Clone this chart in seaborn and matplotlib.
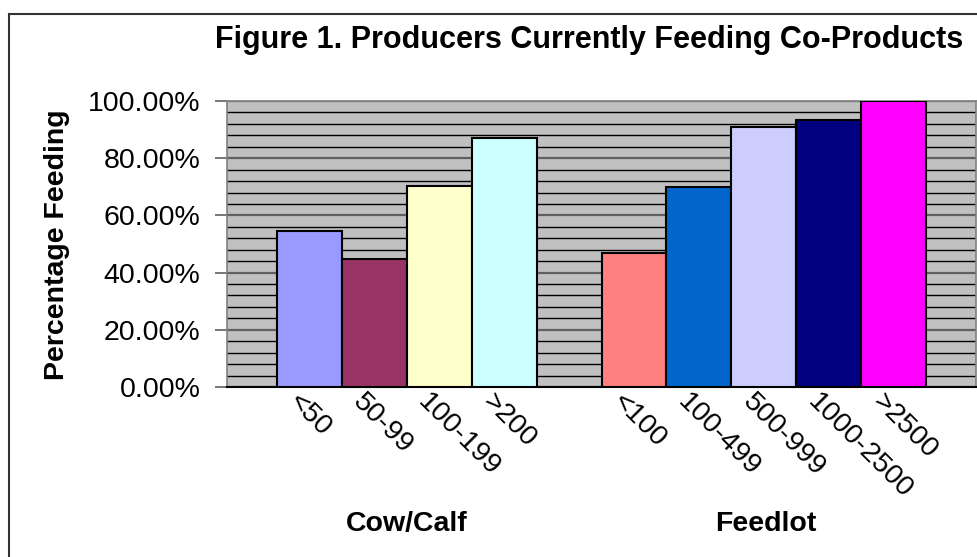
import matplotlib
matplotlib.use("Agg")
import matplotlib.pyplot as plt
import matplotlib.patches as patches
from matplotlib.ticker import MultipleLocator, PercentFormatter
from matplotlib.transforms import ScaledTranslation
import pandas as pd
import seaborn as sns

# data
cow_calf_sizes = ["<50", "50-99", "100-199", ">200"]
cow_calf_pct = [0.545, 0.448, 0.704, 0.870]
feedlot_sizes = ["<100", "100-499", "500-999", "1000-2500", ">2500"]
feedlot_pct = [0.469, 0.698, 0.909, 0.934, 1.0]
group_names = ["Cow/Calf", "Feedlot"]
bar_colors = ["#9999FF", "#993366", "#FFFFCC", "#CCFFFF",
              "#FF8080", "#0066CC", "#CCCCFF", "#000080", "#FF00FF"]

sizes = cow_calf_sizes + feedlot_sizes
df = pd.DataFrame({"size": sizes, "pct": cow_calf_pct + feedlot_pct})
order = cow_calf_sizes + [" "] + feedlot_sizes  # blank slot between the groups
palette = dict(zip(sizes, bar_colors))

sns.set_style("white")
plt.rcParams["font.family"] = ["Liberation Sans", "DejaVu Sans"]
plt.rcParams["text.color"] = "black"
plt.rcParams["xtick.color"] = "black"
plt.rcParams["ytick.color"] = "black"

fig = plt.figure(figsize=(9.77, 5.57), dpi=100)
ax = fig.add_axes([227 / 977, 1 - 387 / 557, 749 / 977, 286 / 557])
ax.set_facecolor("#C0C0C0")

sns.barplot(data=df, x="size", y="pct", hue="size", order=order, hue_order=sizes,
            palette=palette, saturation=1, width=1.0, edgecolor="black", linewidth=1.5,
            legend=False, ax=ax, zorder=3)

ax.set_ylim(0, 1.0)
ax.set_xlim(-1.27, 10.27)
ax.yaxis.set_major_locator(MultipleLocator(0.2))
ax.yaxis.set_minor_locator(MultipleLocator(0.04))
ax.yaxis.set_major_formatter(PercentFormatter(1.0, decimals=2))
ax.grid(True, which="minor", axis="y", color="black", linewidth=1.0, zorder=0)
ax.grid(True, which="major", axis="y", color="#606060", linewidth=1.6, zorder=0)
ax.set_axisbelow(True)

ax.tick_params(axis="y", which="major", length=9, width=1.2, color="#606060",
               labelcolor="black", labelsize=20.5, pad=10, left=True)
ax.tick_params(axis="y", which="minor", length=0)
ax.tick_params(axis="x", length=0, labelcolor="black", labelsize=20.5, pad=1)
plt.setp(ax.get_xticklabels(), rotation=-45, ha="left", va="top", rotation_mode="anchor")
shift = ScaledTranslation(-8 / 100, 0, fig.dpi_scale_trans)
for lab in ax.get_xticklabels():
    lab.set_transform(lab.get_transform() + shift)

ax.set_xlabel("")
ax.set_ylabel("")
for side in ["top", "right", "left"]:
    ax.spines[side].set_color("#808080")
    ax.spines[side].set_linewidth(1.2)
ax.spines["bottom"].set_color("black")
ax.spines["bottom"].set_linewidth(1.5)

fig.text(589 / 977, 1 - 40 / 557, "Figure 1. Producers Currently Feeding Co-Products",
         ha="center", va="center", fontsize=22, fontweight="bold", color="black")
fig.text(57 / 977, 1 - 245 / 557, "Percentage Feeding", rotation=90,
         ha="center", va="center", fontsize=20.5, fontweight="bold", color="black")
for name, x in zip(group_names, [407, 766]):
    fig.text(x / 977, 1 - 524 / 557, name, ha="center", va="center",
             fontsize=20.5, fontweight="bold", color="black")

fig.patches.append(patches.Rectangle((9 / 977, -0.1), 1.2, (557 - 14) / 557 + 0.1,
                                     transform=fig.transFigure, fill=False,
                                     edgecolor="#333333", linewidth=1.5))

fig.savefig("out.png", dpi=100)
